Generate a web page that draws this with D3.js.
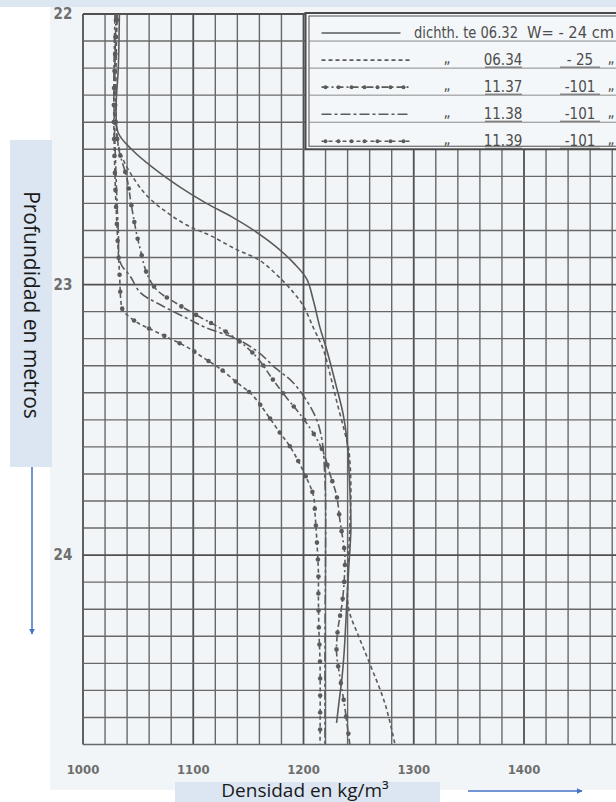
<!DOCTYPE html>
<html>
<head>
<meta charset="utf-8">
<script src="https://cdn.jsdelivr.net/npm/d3@7"></script>
<style>
  html, body { margin: 0; padding: 0; background: #fff; }
  svg { display: block; }
</style>
</head>
<body>
<div id="chart"></div>
<script>
// [depth m, density kg/m3]
const dichte0632 = [[22.0,1033],[22.2,1032],[22.35,1030],[22.44,1032],[22.5,1044],[22.57,1064],[22.64,1088],[22.7,1112],[22.75,1135],[22.8,1155],[22.86,1175],[22.92,1191],[22.98,1203],[23.06,1209],[23.16,1215],[23.24,1221],[23.38,1230],[23.48,1236],[23.6,1240],[23.75,1242],[23.9,1243],[24.05,1241],[24.2,1239],[24.35,1237],[24.45,1235],[24.55,1232],[24.62,1230]];
const dichte0634 = [[22.0,1031],[22.3,1030],[22.5,1033],[22.62,1048],[22.68,1060],[22.73,1075],[22.78,1094],[22.82,1116],[22.87,1139],[22.91,1160],[22.965,1176],[23.03,1191],[23.08,1200],[23.16,1209],[23.24,1218],[23.33,1224],[23.43,1230],[23.54,1237],[23.61,1241],[23.75,1243],[23.9,1242],[24.1,1240],[24.2,1241],[24.3,1250],[24.4,1260],[24.55,1274],[24.7,1283]];
const dichte1137 = [[22.0,1030],[22.3,1029],[22.49,1032],[22.61,1040],[22.71,1044],[22.82,1049],[22.87,1052],[22.96,1058],[23.02,1067],[23.07,1085],[23.12,1106],[23.16,1124],[23.21,1142],[23.27,1158],[23.35,1172],[23.42,1185],[23.48,1197],[23.55,1209],[23.62,1218],[23.7,1224],[23.78,1230],[23.87,1233],[23.95,1236],[24.0,1237.5],[24.09,1237],[24.18,1235],[24.28,1231],[24.36,1230],[24.45,1233],[24.55,1237],[24.7,1242]];
const dichte1138 = [[22.0,1029],[22.3,1028],[22.6,1030],[22.8,1032],[22.92,1034],[22.97,1043],[23.03,1052],[23.07,1068],[23.12,1092],[23.16,1112],[23.2,1139],[23.25,1159],[23.31,1175],[23.36,1190],[23.43,1203],[23.5,1212],[23.58,1217],[23.68,1219],[23.8,1220],[24.0,1220],[24.3,1219.5],[24.7,1219.5]];
const dichte1139 = [[22.0,1031],[22.3,1028],[22.6,1029],[22.8,1031],[22.95,1033],[23.08,1035],[23.1,1037],[23.14,1049],[23.17,1064],[23.2,1079],[23.23,1094],[23.27,1109],[23.31,1124],[23.36,1139],[23.41,1154],[23.48,1167],[23.55,1179],[23.6,1188],[23.7,1201],[23.78,1209],[23.85,1210.5],[23.94,1212],[24.06,1213.5],[24.15,1213.5],[24.28,1214],[24.4,1215],[24.7,1215]];

const seriesData = [dichte0632, dichte0634, dichte1137, dichte1138, dichte1139];
const seriesTimes = ['06.32', '06.34', '11.37', '11.38', '11.39'];
const seriesW = ['- 24 cm', '- 25', '-101', '-101', '-101'];
const densityTicks = [1000, 1100, 1200, 1300, 1400];
const depthTicks = [22, 23, 24];

const width = 616, height = 802;
const ink = '#5b5b5b';

const svg = d3.select('#chart').append('svg')
    .attr('width', width)
    .attr('height', height);

const x = d3.scaleLinear().domain([1000, 1500]).range([83, 634.25]);
const y = d3.scaleLinear().domain([22, 24.7]).range([14, 744.5]);

// scanned sheet background
svg.append('rect').attr('x', 50).attr('y', 7).attr('width', width - 50).attr('height', 783).attr('fill', '#f1f5f7');
svg.append('rect').attr('x', 0).attr('y', 0).attr('width', width).attr('height', 7).attr('fill', '#dde7f1');

const plot = svg.append('g');

// grid: 20 kg/m3 by 0.1 m
const vLines = d3.range(1000, 1501, 20);
const hLines = d3.range(0, 28).map(i => +(22 + i * 0.1).toFixed(1));

plot.selectAll('.vgrid').data(vLines).join('line')
    .attr('x1', d => x(d)).attr('x2', d => x(d))
    .attr('y1', y(22)).attr('y2', y(24.7))
    .attr('stroke', d => d % 100 === 0 ? '#505050' : '#686868')
    .attr('stroke-width', d => d % 100 === 0 ? 1.8 : 1.4);

plot.selectAll('.hgrid').data(hLines).join('line')
    .attr('x1', x(1000)).attr('x2', width)
    .attr('y1', d => y(d)).attr('y2', d => y(d))
    .attr('stroke', d => Number.isInteger(d) ? '#505050' : '#686868')
    .attr('stroke-width', d => Number.isInteger(d) ? 1.8 : 1.4);

// curves
const dashes = [null, '4,3', '7,3,2,3', '10,3,3,3', '4,3'];
const dotted = [false, false, true, false, true];

const line = d3.line()
    .x(d => x(d[1]))
    .y(d => y(d[0]))
    .curve(d3.curveCatmullRom.alpha(0.5));

seriesData.forEach((s, i) => {
    const path = plot.append('path')
        .datum(s)
        .attr('d', line)
        .attr('fill', 'none')
        .attr('stroke', ink)
        .attr('stroke-width', 1.6)
        .attr('stroke-dasharray', dashes[i]);
    if (dotted[i]) {
        const node = path.node();
        const len = node.getTotalLength();
        const pts = d3.range(6, len, 17).map(l => node.getPointAtLength(l));
        plot.selectAll(null).data(pts).join('circle')
            .attr('cx', p => p.x).attr('cy', p => p.y)
            .attr('r', 2.3)
            .attr('fill', ink);
    }
});

// legend box (sits on the sheet, rows follow the grid)
const lx0 = x(1200) + 2, ly0 = y(22) - 1, ly1 = y(22.5);
const legend = svg.append('g');
legend.append('rect')
    .attr('x', lx0).attr('y', ly0)
    .attr('width', width - lx0 + 5).attr('height', ly1 - ly0)
    .attr('fill', '#f4f7f9').attr('stroke', '#4a4a4a').attr('stroke-width', 2);
legend.append('rect')
    .attr('x', lx0 + 3.5).attr('y', ly0 + 3)
    .attr('width', width - lx0).attr('height', ly1 - ly0 - 6)
    .attr('fill', 'none').attr('stroke', '#6a6a6a').attr('stroke-width', 1.2);

const rowY = d3.range(5).map(i => y(22 + (i + 1) * 0.1));
legend.selectAll('.rule').data(rowY.slice(0, 4)).join('line')
    .attr('x1', lx0 + 3.5).attr('x2', width)
    .attr('y1', d => d).attr('y2', d => d)
    .attr('stroke', '#8a8a8a').attr('stroke-width', 1);

const legendFont = '"DejaVu Sans Condensed", "DejaVu Sans", sans-serif';
seriesTimes.forEach((t, i) => {
    const ry = rowY[i] - 8;
    const x2 = i === 0 ? lx0 + 95 : lx0 + 105;
    legend.append('path')
        .attr('d', d3.line()([[lx0 + 16, ry], [x2, ry]]))
        .attr('stroke', ink).attr('stroke-width', 1.6)
        .attr('stroke-dasharray', dashes[i]);
    if (dotted[i]) {
        legend.selectAll(null).data(d3.range(lx0 + 20, lx0 + 105, 13)).join('circle')
            .attr('cx', d => d).attr('cy', ry).attr('r', 2).attr('fill', ink);
    }
    const txt = legend.append('g')
        .attr('font-family', legendFont)
        .attr('font-size', 15).attr('fill', '#4d4d4d');
    if (i === 0) {
        txt.append('text').attr('x', 414).attr('y', rowY[i] - 3)
            .attr('textLength', 104).attr('lengthAdjust', 'spacingAndGlyphs')
            .text('dichth. te ' + t);
        txt.append('text').attr('x', 527).attr('y', rowY[i] - 3)
            .attr('textLength', 87).attr('lengthAdjust', 'spacingAndGlyphs')
            .text('W= ' + seriesW[i]);
    } else {
        txt.append('text').attr('x', 447).attr('y', rowY[i] - 5).attr('text-anchor', 'middle').text('„');
        txt.append('text').attr('x', 503).attr('y', rowY[i] - 3).attr('text-anchor', 'middle').text(t);
        txt.append('text').attr('x', 580).attr('y', rowY[i] - 3).attr('text-anchor', 'middle').text(seriesW[i]);
        txt.append('text').attr('x', 611).attr('y', rowY[i] - 5).attr('text-anchor', 'middle').text('„');
        // underline under the hand-filled values
        legend.append('line').attr('x1', 485).attr('x2', 522)
            .attr('y1', rowY[i] - 1).attr('y2', rowY[i] - 1).attr('stroke', '#5a5a5a');
        legend.append('line').attr('x1', 560).attr('x2', 600)
            .attr('y1', rowY[i] - 1).attr('y2', rowY[i] - 1).attr('stroke', '#5a5a5a');
    }
});

// tick labels from the scan
svg.append('g').selectAll('text').data(depthTicks).join('text')
    .attr('x', 63).attr('y', d => y(d) + 5)
    .attr('text-anchor', 'middle')
    .attr('font-family', '"DejaVu Sans Condensed", sans-serif')
    .attr('font-weight', 'bold').attr('font-size', 15)
    .attr('fill', '#6e6e6e')
    .text(d => d);

svg.append('g').selectAll('text').data(densityTicks).join('text')
    .attr('x', d => x(d)).attr('y', 774)
    .attr('text-anchor', 'middle')
    .attr('font-family', '"DejaVu Sans Condensed", sans-serif')
    .attr('font-weight', 'bold').attr('font-size', 13)
    .attr('fill', '#6e6e6e')
    .text(d => d);

// overlaid axis titles with arrows
const blue = '#4472c4';
const defs = svg.append('defs');
defs.append('marker').attr('id', 'arrow')
    .attr('viewBox', '0 0 10 10').attr('refX', 9).attr('refY', 5)
    .attr('markerWidth', 4).attr('markerHeight', 4).attr('orient', 'auto')
    .append('path').attr('d', 'M0,0L10,5L0,10z').attr('fill', blue);

svg.append('rect').attr('x', 10).attr('y', 140).attr('width', 42).attr('height', 327).attr('fill', '#dce6f2');
svg.append('text')
    .attr('transform', 'translate(24,305) rotate(90)')
    .attr('text-anchor', 'middle')
    .attr('font-family', '"Open Sans", "Noto Sans", sans-serif')
    .attr('font-size', 21).attr('fill', '#1a1a1a')
    .text('Profundidad en metros');
svg.append('line').attr('x1', 32).attr('x2', 32).attr('y1', 467).attr('y2', 634)
    .attr('stroke', blue).attr('stroke-width', 1.5).attr('marker-end', 'url(#arrow)');

svg.append('rect').attr('x', 175).attr('y', 782).attr('width', 265).attr('height', 20).attr('fill', '#dce6f2');
svg.append('text')
    .attr('x', 305).attr('y', 797)
    .attr('text-anchor', 'middle')
    .attr('font-family', '"Open Sans", "Noto Sans", sans-serif')
    .attr('font-size', 19).attr('fill', '#1a1a1a')
    .text('Densidad en kg/m³');
svg.append('line').attr('x1', 468).attr('x2', 582).attr('y1', 791).attr('y2', 791)
    .attr('stroke', blue).attr('stroke-width', 1.5).attr('marker-end', 'url(#arrow)');
</script>
</body>
</html>
